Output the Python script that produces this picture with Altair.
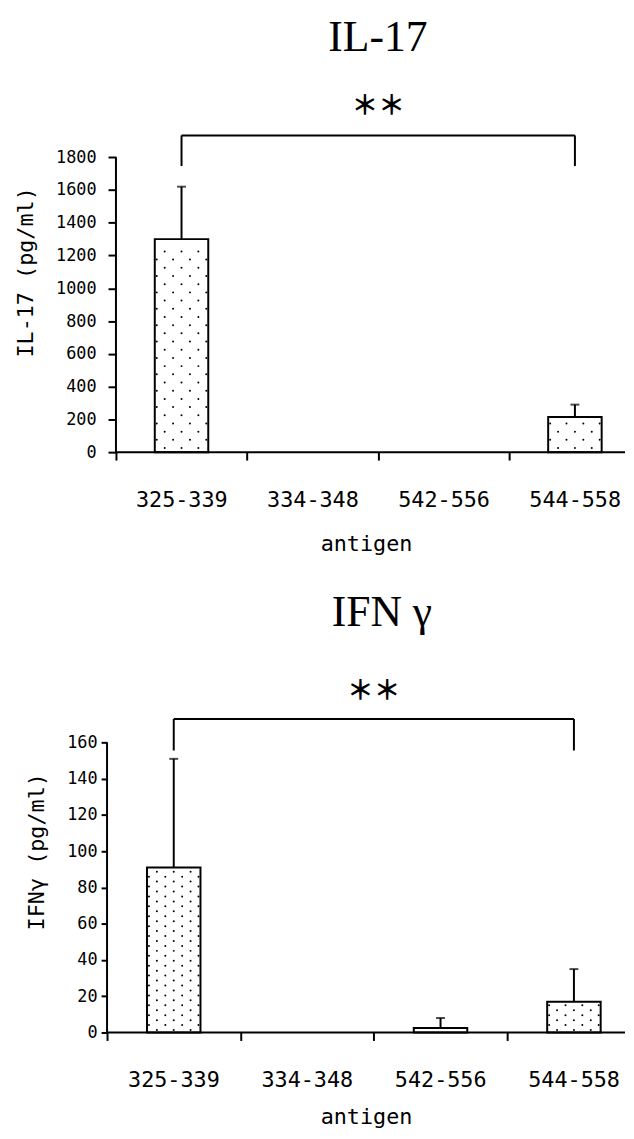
import altair as alt
import pandas as pd

# ---------------- data ----------------
categories = ["325-339", "334-348", "542-556", "544-558"]
il17_mean = [1300, 0, 0, 215]
il17_upper = [1620, 0, 0, 290]
ifn_mean = [91, 0, 2.5, 17]
ifn_upper = [151, 0, 8, 35]
il17_ticks = [0, 200, 400, 600, 800, 1000, 1200, 1400, 1600, 1800]
ifn_ticks = [0, 20, 40, 60, 80, 100, 120, 140, 160]

MONO = "DejaVu Sans Mono"
SERIF = "Liberation Serif"
CJK = "Noto Sans CJK JP"

label_expr = "[" + ",".join("'%s'" % c for c in categories) + "][datum.value]"


def panel(title, ytitle, means, uppers, ticks, cfg):
    df = pd.DataFrame({"antigen": categories, "idx": list(range(len(categories))),
                       "mean": means, "upper": uppers})
    xscale = alt.Scale(domain=cfg["xdom"], nice=False, zero=False, padding=0)
    yscale = alt.Scale(domain=[0, cfg["ymax"]], nice=False, padding=0)
    xaxis = alt.Axis(values=[0, 1, 2, 3], labelExpr=label_expr, labelOffset=cfg["labelOffset"],
                     tickSize=8, tickWidth=2, tickColor="black", domain=False, grid=False,
                     labelFont=MONO, labelFontSize=22, labelColor="black", labelPadding=30,
                     labelFlush=False, labelOverlap=False, title="antigen", titleFont=MONO,
                     titleFontSize=22, titleFontWeight="normal", titleColor="black",
                     titleBaseline="alphabetic", titleY=cfg["xtitleY"])
    yaxis = alt.Axis(values=ticks, format="d", tickSize=cfg["ytick"], tickWidth=2,
                     tickColor="black", domain=False, grid=False, offset=cfg["yoffset"],
                     labelFont=MONO, labelFontSize=17, labelColor="black",
                     labelPadding=cfg["ylabpad"], labelFlush=False, labelOverlap=False,
                     title=ytitle, titleFont=MONO, titleFontSize=22, titleFontWeight="normal",
                     titleColor="black", titleBaseline="middle", titleX=cfg["ytitleX"])

    def X(f):
        return alt.X(f, type="quantitative", scale=xscale, axis=xaxis)

    def Y(f):
        return alt.Y(f, type="quantitative", scale=yscale, axis=yaxis)

    base = alt.Chart(df).transform_calculate(xc="datum.idx + 0.5")

    bars = base.transform_filter("datum.mean > 0").mark_bar(
        size=54, fill="white", stroke="black", strokeWidth=2
    ).encode(x=X("xc"), y=Y("mean"))

    sy = cfg["dotstep"]
    unit = cfg["unit"]
    dots = base.transform_filter("datum.mean > 0").transform_calculate(
        rows="sequence(%f, datum.mean - %f, %f)" % (sy / 2, 0.6 * sy, sy)
    ).transform_flatten(["rows"]).transform_calculate(
        k="round((datum.rows - %f) / %f) %% 2" % (sy / 2, sy)
    ).transform_calculate(
        offs="datum.k == 0 ? [-17, 0, 17] : [-25, -8.5, 8.5, 25]"
    ).transform_flatten(["offs"]).transform_calculate(
        xd="datum.idx + 0.5 + datum.offs / %f" % unit
    ).mark_circle(size=4, color="black", opacity=1).encode(x=X("xd"), y=Y("rows"))

    err = base.transform_filter("datum.upper > datum.mean").mark_rule(
        color="black", strokeWidth=2
    ).encode(x=X("xc"), y=Y("mean"), y2="upper:Q")
    cap = base.transform_filter("datum.upper > datum.mean").mark_tick(
        orient="horizontal", size=9, thickness=2, color="black"
    ).encode(x=X("xc"), y=Y("upper"))

    axes_df = pd.DataFrame({"x0": [0], "x1": [cfg["xdom"][1]], "y0": [0], "y1": [ticks[-1]]})
    yline = alt.Chart(axes_df).mark_rule(color="black", strokeWidth=2).encode(
        x=X("x0"), y=Y("y0"), y2="y1:Q")
    xline = alt.Chart(axes_df).mark_rule(color="black", strokeWidth=2).encode(
        x=X("x0"), x2="x1:Q", y=Y("y0"))

    br = cfg["bracket"]
    br_h = pd.DataFrame({"a": [0.5], "b": [3.5], "y": [br[1]]})
    br_v = pd.DataFrame({"a": [0.5, 3.5], "lo": [br[0], br[0]], "hi": [br[1], br[1]]})
    bracket_h = alt.Chart(br_h).mark_rule(color="black", strokeWidth=2).encode(
        x=X("a"), x2="b:Q", y=Y("y"))
    bracket_v = alt.Chart(br_v).mark_rule(color="black", strokeWidth=2).encode(
        x=X("a"), y=Y("lo"), y2="hi:Q")
    star_df = pd.DataFrame({"x": [2.0], "y": [cfg["stary"]], "t": ["＊＊"]})
    stars = alt.Chart(star_df).mark_text(font=CJK, fontSize=27, fontWeight="bold",
                                         color="black", baseline="middle",
                                         align="center").encode(
        x=X("x"), y=Y("y"), text="t:N")

    return alt.layer(bars, dots, err, cap, yline, xline, bracket_h, bracket_v, stars).properties(
        width=523, height=cfg["height"],
        title=alt.TitleParams(title, font=SERIF, fontSize=44, fontWeight="normal",
                              color="black", anchor="middle", frame="group",
                              baseline="alphabetic", offset=cfg["toff"], dx=cfg["tdx"]))


top_cfg = dict(xdom=[-0.068, 3.882], ymax=2200, height=364, labelOffset=66, xtitleY=99,
               ytick=8, yoffset=-9, ylabpad=12, ytitleX=-91, dotstep=50, unit=132.4,
               bracket=[1746, 1933], stary=2108, toff=-3, tdx=12)
bot_cfg = dict(xdom=[0, 3.883], ymax=200, height=366, labelOffset=67, xtitleY=92,
               ytick=6, yoffset=0, ylabpad=4, ytitleX=-71, dotstep=2.73, unit=134.7,
               bracket=[155.6, 173], stary=188, toff=0, tdx=16)

top = panel("IL-17", "IL-17 (pg/ml)", il17_mean, il17_upper, il17_ticks, top_cfg)
bottom = panel("IFN γ", "IFNγ (pg/ml)", ifn_mean, ifn_upper, ifn_ticks, bot_cfg)

chart = alt.vconcat(top, bottom, spacing=38).properties(
    padding={"left": 7, "top": 3, "right": 0, "bottom": 0}
).configure_view(stroke=None)

chart.save("out.html", embed_options={"renderer": "svg", "actions": False})
